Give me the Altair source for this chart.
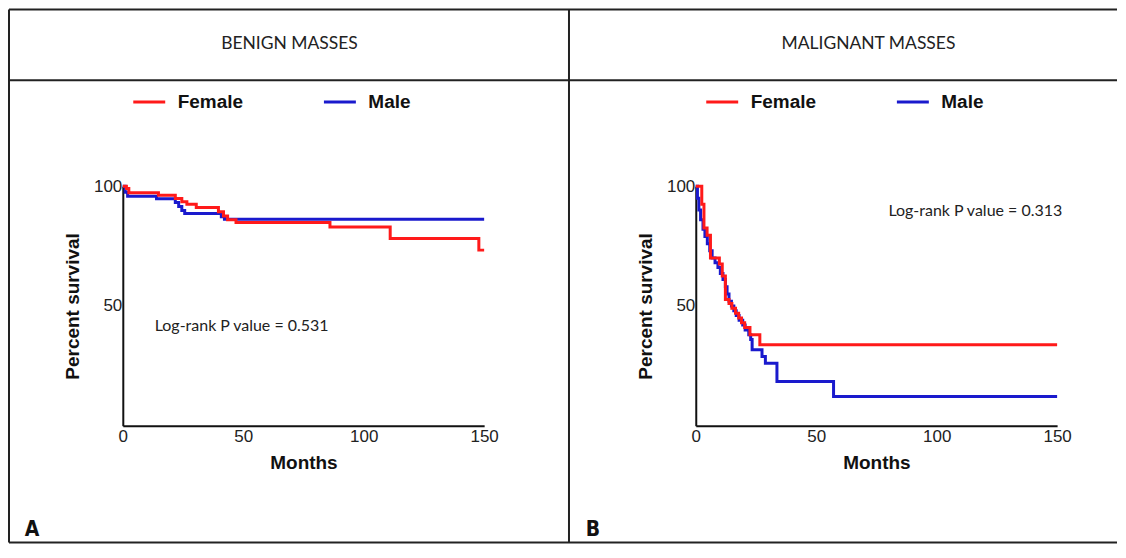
import altair as alt
import pandas as pd

# ---------------- data ----------------
panel_titles = ["BENIGN MASSES", "MALIGNANT MASSES"]
panel_letters = ["A", "B"]
pvalue_texts = ["Log-rank P value = 0.531", "Log-rank P value = 0.313"]
groups = ["Female", "Male"]
group_colors = ["#ff1a1a", "#1a1acd"]
x_ticks = [0, 50, 100, 150]
y_ticks = [50, 100]

benign_female_months = [0, 1.5, 2.5, 14.8, 21.8, 24.5, 26.6, 30.5, 39.7, 41.8, 43.5, 47, 86, 111, 147.8, 150]
benign_female_surv = [100, 99, 97.2, 96.2, 94.9, 93.5, 92.4, 91.1, 89.3, 87.5, 86, 84.8, 83, 78.2, 73.3, 73.3]

benign_male_months = [0, 1, 2, 14, 21.8, 23.2, 24.5, 25.7, 40.9, 42.2, 150]
benign_male_surv = [100, 97.5, 95.8, 94.7, 93.2, 91.5, 89.8, 88.6, 87.2, 86.2, 86.2]

malig_female_months = [0, 2.5, 3.4, 4.7, 6.1, 9.8, 11, 12.3, 13.8, 15, 16.5, 17.8, 19, 20.3, 22.5, 26.6, 150]
malig_female_surv = [100, 92.5, 82.5, 79.5, 70, 67.5, 62.5, 52.7, 51, 49, 47, 45, 43, 41, 38, 33.8, 33.8]

malig_male_months = [0, 0.7, 1.3, 2, 3, 3.8, 4.8, 5.8, 6.8, 8, 9.2, 10.2, 11.3, 12.3, 13, 13.8,
                     14.8, 15.8, 16.8, 18, 19.5, 20.5, 22, 22.8, 23.4, 27.5, 28.9, 33.7, 57.2, 150]
malig_male_surv = [100, 95, 90, 86, 82, 79, 76, 73, 70, 68, 66, 63.5, 61, 58, 55, 52,
                   50, 48, 46, 44, 42, 40, 38, 36, 31.7, 28.9, 26.1, 18.5, 12.2, 12.2]


def km_df(months, surv, group):
    return pd.DataFrame({"months": months, "survival": surv, "group": group})


W, H = 362, 240
one = pd.DataFrame({"k": [0]})
TICK_FONT = "Liberation Sans, Arial, sans-serif"
GILL = "Lato, Open Sans, sans-serif"


def panel(fem, male, idx, legend_x, legend_y, p_x, p_y, frame):
    color = alt.Color(
        "group:N",
        scale=alt.Scale(domain=groups, range=group_colors),
        legend=alt.Legend(
            title=None, orient="none", legendX=legend_x, legendY=legend_y,
            direction="horizontal", symbolType="stroke", symbolSize=1024,
            symbolStrokeWidth=3, labelFont=TICK_FONT, labelFontSize=19,
            labelFontWeight="bold", labelColor="#111", labelOffset=11,
            columnPadding=74, padding=0,
        ),
    )
    x = alt.X("months:Q", scale=alt.Scale(domain=[0, 150], nice=False),
              axis=alt.Axis(values=x_ticks, title="Months", ticks=False, grid=False,
                            domainColor="#111", domainWidth=2, labelFlush=False,
                            labelFont=TICK_FONT, labelFontSize=17, labelColor="#222",
                            labelPadding=3, titleFont=TICK_FONT, titleFontSize=19,
                            titleFontWeight="bold", titleColor="#111",
                            titleX=181, titleY=37, titleAlign="center",
                            titleBaseline="middle"))
    y = alt.Y("survival:Q", scale=alt.Scale(domain=[0, 100], nice=False),
              axis=alt.Axis(values=y_ticks, title="Percent survival", ticks=False,
                            grid=False, domainColor="#111", domainWidth=2,
                            labelFlush=False, labelFont=TICK_FONT, labelFontSize=17,
                            labelColor="#222", labelPadding=1, titleFont=TICK_FONT,
                            titleFontSize=19, titleFontWeight="bold", titleColor="#111",
                            titleX=-50, titleY=120, titleAngle=270, titleAlign="center",
                            titleBaseline="middle"))
    male_line = alt.Chart(male).mark_line(interpolate="step-after", strokeWidth=3).encode(
        x=x, y=y, color=color)
    fem_line = alt.Chart(fem).mark_line(interpolate="step-after", strokeWidth=3).encode(
        x=x, y=y, color=color)

    header = alt.Chart(one).mark_text(
        text=panel_titles[idx], font=GILL, fontSize=17.5, color="#222",
        align="center", baseline="middle").encode(
        x=alt.value(167 if idx == 0 else 173), y=alt.value(-142))
    letter = alt.Chart(one).mark_text(
        text=panel_letters[idx], font="Liberation Sans Narrow, DejaVu Sans Condensed, sans-serif",
        fontSize=21, fontWeight="bold", color="#111", align="center",
        baseline="middle").encode(
        x=alt.value(-91 if idx == 0 else -103), y=alt.value(344))
    ptext = alt.Chart(one).mark_text(
        text=pvalue_texts[idx], font=GILL, fontSize=16, color="#222",
        align="left", baseline="middle").encode(x=alt.value(p_x), y=alt.value(p_y))

    layers = []
    if frame:
        fr = alt.Chart(one).mark_rule(color="#222", strokeWidth=2)
        layers += [
            fr.encode(x=alt.value(-114), x2=alt.value(996), y=alt.value(-177)),
            fr.encode(x=alt.value(-114), x2=alt.value(996), y=alt.value(-106)),
            fr.encode(x=alt.value(-114), x2=alt.value(996), y=alt.value(357)),
            fr.encode(x=alt.value(-114), y=alt.value(-177), y2=alt.value(357)),
            fr.encode(x=alt.value(447), y=alt.value(-177), y2=alt.value(357)),
        ]
    layers += [header, letter, ptext, male_line, fem_line]
    return alt.layer(*layers).properties(width=W, height=H)


left = panel(km_df(benign_female_months, benign_female_surv, "Female"),
             km_df(benign_male_months, benign_male_surv, "Male"),
             0, 9, -102, 32, 140, True)
right = panel(km_df(malig_female_months, malig_female_surv, "Female"),
              km_df(malig_male_months, malig_male_surv, "Male"),
              1, 9, -102, 193, 25, False)

chart = alt.hconcat(left, right, spacing=212, bounds="flush").resolve_scale(
    color="independent").properties(padding=0, background="white").configure_view(
    stroke=None)

chart.save("out.html", embed_options={"renderer": "svg", "actions": False})
